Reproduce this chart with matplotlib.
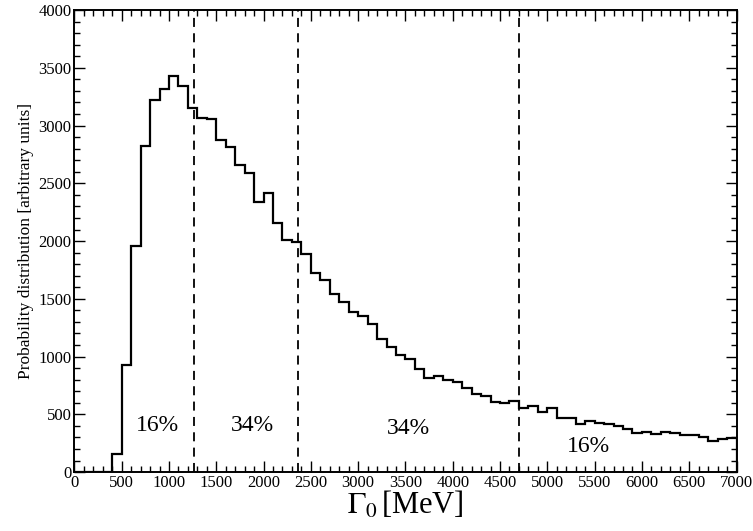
import numpy as np
import matplotlib.pyplot as plt
from matplotlib.ticker import MultipleLocator

plt.rcParams["font.family"] = ["Liberation Serif", "DejaVu Serif"]
plt.rcParams["mathtext.fontset"] = "stix"

# histogram of Gamma_0, 100 MeV bins from 0 to 7000
bin_width = 100
counts = [0, 0, 0, 0, 160, 925, 1960, 2825, 3221, 3313,
          3431, 3345, 3154, 3065, 3055, 2874, 2817, 2658, 2586, 2341,
          2413, 2159, 2009, 1988, 1890, 1726, 1662, 1538, 1475, 1388,
          1353, 1278, 1151, 1085, 1016, 975, 892, 811, 831, 799,
          782, 724, 672, 661, 603, 600, 612, 558, 568, 519,
          551, 470, 470, 413, 444, 421, 413, 398, 370, 340,
          349, 326, 349, 340, 318, 318, 300, 268, 283, 292]
edges = np.arange(len(counts) + 1) * bin_width

# quantile boundaries (16%, 50%, 84%)
cuts = [1260, 2360, 4700]
region_labels = ["16%", "34%", "34%", "16%"]
label_x = [880, 1880, 3530, 5440]
label_y = [405, 405, 375, 220]

fig = plt.figure(figsize=(7.53, 5.31), dpi=100)
ax = fig.add_axes([0.0988, 0.111, 0.8793, 0.870])

ax.stairs(counts, edges, color="black", linewidth=1.6)
for c in cuts:
    ax.axvline(c, color="black", linestyle=(0, (5, 3.5)), linewidth=1.3)
for t, x, y in zip(region_labels, label_x, label_y):
    ax.text(x, y, t, ha="center", va="center", fontsize=17)

ax.set_xlim(0, 7000)
ax.set_ylim(0, 4000)
ax.xaxis.set_major_locator(MultipleLocator(500))
ax.xaxis.set_minor_locator(MultipleLocator(100))
ax.yaxis.set_major_locator(MultipleLocator(500))
ax.yaxis.set_minor_locator(MultipleLocator(100))
ax.tick_params(which="both", direction="in", top=True, right=True, labelsize=12, pad=2)
ax.tick_params(which="major", length=8, width=1)
ax.tick_params(which="minor", length=4, width=1)
for s in ax.spines.values():
    s.set_linewidth(1.4)

ax.set_xlabel(r"$\Gamma_0\,$[MeV]", fontsize=22, labelpad=-1)
ax.set_ylabel("Probability distribution [arbitrary units]", fontsize=12.5, labelpad=3)

fig.savefig("out.png", dpi=100)
